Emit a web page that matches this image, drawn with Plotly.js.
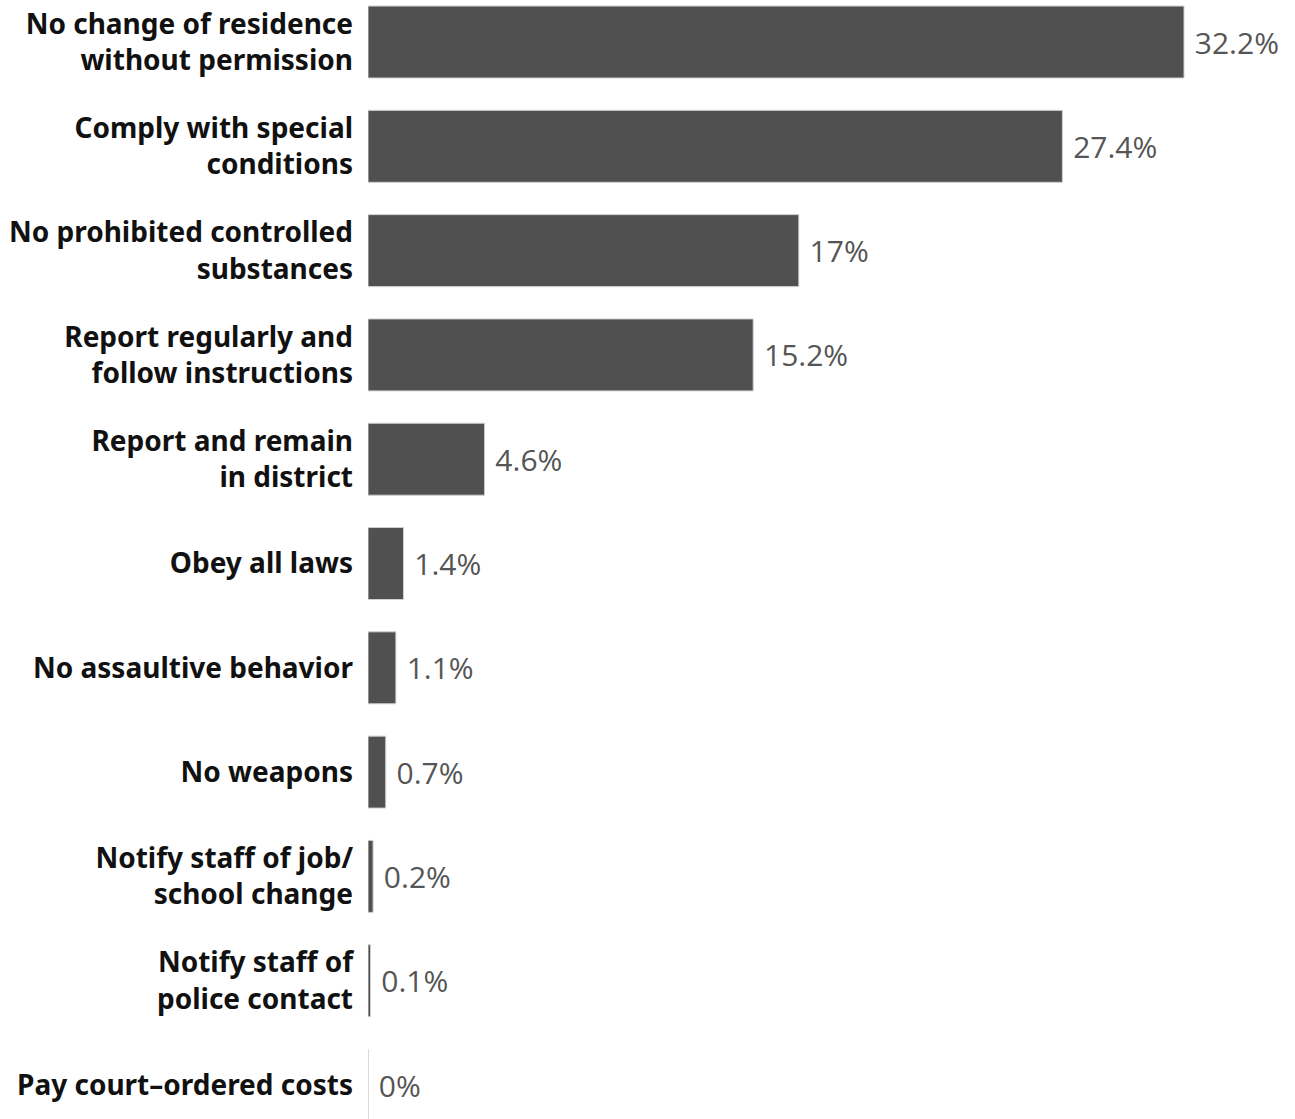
<!DOCTYPE html>
<html>
<head>
<meta charset="utf-8">
<script src="https://cdn.plot.ly/plotly-3.0.1.min.js"></script>
<style>html,body{margin:0;padding:0;background:#fff;}#chart{width:1295px;height:1119px;}</style>
</head>
<body>
<div id="chart"></div>
<script>
const categories = [
  "No change of residence<br>without permission",
  "Comply with special<br>conditions",
  "No prohibited controlled<br>substances",
  "Report regularly and<br>follow instructions",
  "Report and remain<br>in district",
  "Obey all laws",
  "No assaultive behavior",
  "No weapons",
  "Notify staff of job/<br>school change",
  "Notify staff of<br>police contact",
  "Pay court–ordered costs"
];
const values = [32.2, 27.4, 17, 15.2, 4.6, 1.4, 1.1, 0.7, 0.2, 0.1, 0];
const valueLabels = values.map(v => " " + v + "%");

const barWidth = 0.69;
const shapes = [];
values.forEach((v, i) => {
  if (v === 0) {
    shapes.push({type: "line", xref: "x", yref: "y", x0: v, x1: v,
      y0: i - barWidth / 2, y1: i + barWidth / 2,
      line: {color: "#d9d9d9", width: 1}});
  }
});

const trace = {
  type: "bar",
  orientation: "h",
  y: categories,
  x: values,
  text: valueLabels,
  textposition: "outside",
  cliponaxis: false,
  textfont: {family: "Open Sans, sans-serif", size: 30, color: "#555555"},
  marker: {color: "#505050", line: {color: "#cfcfcf", width: 1}},
  hoverinfo: "none"
};

const layout = {
  width: 1295,
  height: 1119,
  margin: {l: 368, r: 0, t: 0, b: 0, pad: 0},
  paper_bgcolor: "#ffffff",
  plot_bgcolor: "#ffffff",
  showlegend: false,
  bargap: 1 - barWidth,
  xaxis: {range: [0, 36.58], visible: false, showgrid: false, zeroline: false, fixedrange: true},
  yaxis: {
    type: "category",
    range: [10.326, -0.403],
    showgrid: false, zeroline: false, showline: false,
    ticks: "", ticklabelstandoff: 14,
    tickfont: {family: "Noto Sans, sans-serif", size: 28, color: "#111111", weight: "bold"},
    fixedrange: true
  },
  shapes: shapes,
  font: {family: "Noto Sans, sans-serif"}
};

Plotly.newPlot("chart", [trace], layout, {displayModeBar: false, staticPlot: true});
</script>
</body>
</html>
